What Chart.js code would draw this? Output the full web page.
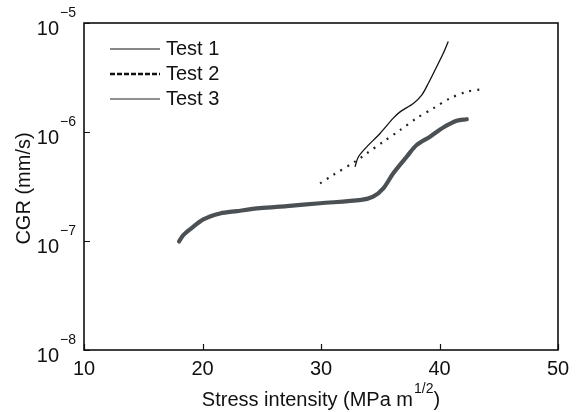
<!DOCTYPE html>
<html>
<head>
<meta charset="utf-8">
<script src="https://cdn.jsdelivr.net/npm/chart.js@4/dist/chart.umd.min.js"></script>
<style>
html,body{margin:0;padding:0;background:#fff;}
#wrap{width:579px;height:412px;position:relative;}
</style>
</head>
<body>
<div id="wrap"><canvas id="c"></canvas></div>
<script>
// ---- data ----
const seriesNames = ['Test 1', 'Test 2', 'Test 3'];
const test1X = [32.87, 33.15, 33.86, 34.98, 36.1, 36.67, 37.79, 38.5, 39.06, 39.76, 40.32, 40.74];
const test1Y = [4.8e-7, 5.9e-7, 7.3e-7, 9.7e-7, 1.34e-6, 1.53e-6, 1.83e-6, 2.18e-6, 2.8e-6, 3.97e-6, 5.27e-6, 6.75e-6];
const test2X = [29.92, 31.04, 32.87, 33.86, 35.26, 36.67, 38.07, 39.48, 40.89, 42.3, 43.56];
const test2Y = [3.38e-7, 4.04e-7, 5.35e-7, 6.37e-7, 8.15e-7, 1.04e-6, 1.34e-6, 1.65e-6, 2.04e-6, 2.34e-6, 2.47e-6];
const test3X = [18.02, 18.38, 18.95, 20.07, 21.48, 22.89, 24.85, 27.11, 29.92, 33.4, 34.4, 35.26, 36.1, 37.23, 38.07, 39.2, 40.32, 41.45, 42.3];
const test3Y = [9.9e-8, 1.13e-7, 1.28e-7, 1.58e-7, 1.79e-7, 1.88e-7, 2.0e-7, 2.09e-7, 2.22e-7, 2.38e-7, 2.55e-7, 3.04e-7, 4.18e-7, 5.93e-7, 7.6e-7, 9.06e-7, 1.1e-6, 1.27e-6, 1.31e-6];
const xTickValues = [10, 20, 30, 40, 50];
const yTickValues = [1e-8, 1e-7, 1e-6, 1e-5];
const yTickBase = ['10', '10', '10', '10'];
const yTickExp = ['\u22128', '\u22127', '\u22126', '\u22125'];
const xTitle = 'Stress intensity (MPa m';
const xTitleSup = '1/2';
const yTitle = 'CGR (mm/s)';

const FONT = '"Liberation Sans", Arial, sans-serif';
const pts = (xs, ys) => xs.map((x, i) => ({x: x, y: ys[i]}));

const legendStyles = [
  {color: '#111', width: 1.2, dash: []},
  {color: '#111', width: 2.6, dash: [5, 2]},
  {color: '#222', width: 1.0, dash: []}
];

const decor = {
  id: 'decor',
  afterDraw(chart) {
    const ctx = chart.ctx;
    const a = chart.chartArea;
    const xs = chart.scales.x, ys = chart.scales.y;
    ctx.save();
    // frame
    ctx.strokeStyle = '#111';
    ctx.lineWidth = 1.6;
    ctx.strokeRect(a.left, a.top, a.right - a.left, a.bottom - a.top);
    // inward ticks
    ctx.lineWidth = 1.2;
    ctx.beginPath();
    yTickValues.forEach(v => {
      const p = Math.round(ys.getPixelForValue(v)) + 0.5;
      ctx.moveTo(a.left, p); ctx.lineTo(a.left + 6, p);
    });
    xTickValues.forEach(v => {
      const p = Math.round(xs.getPixelForValue(v)) + 0.5;
      ctx.moveTo(p, a.bottom); ctx.lineTo(p, a.bottom - 6);
    });
    ctx.stroke();
    ctx.fillStyle = '#111';
    // x tick labels
    ctx.font = '20px ' + FONT;
    ctx.textAlign = 'center';
    ctx.textBaseline = 'middle';
    xTickValues.forEach(v => {
      ctx.fillText(String(v), xs.getPixelForValue(v), a.bottom + 19);
    });
    // y tick labels with superscript exponents
    yTickValues.forEach((v, i) => {
      const p = ys.getPixelForValue(v);
      ctx.font = '20px ' + FONT;
      ctx.textAlign = 'right';
      ctx.textBaseline = 'middle';
      ctx.fillText(yTickBase[i], a.left - 25, p + 6);
      ctx.font = '14px ' + FONT;
      ctx.textAlign = 'left';
      ctx.fillText(yTickExp[i], a.left - 24, p - 10);
    });
    // x title with superscript
    ctx.font = '20px ' + FONT;
    const w1 = ctx.measureText(xTitle).width;
    ctx.font = '14px ' + FONT;
    const w2 = ctx.measureText(xTitleSup).width;
    ctx.font = '20px ' + FONT;
    const w3 = ctx.measureText(')').width;
    const total = w1 + w2 + w3 + 1;
    let x0 = (a.left + a.right) / 2 - total / 2;
    const ty = a.bottom + 50;
    ctx.textAlign = 'left';
    ctx.textBaseline = 'middle';
    ctx.fillText(xTitle, x0, ty);
    ctx.font = '14px ' + FONT;
    ctx.fillText(xTitleSup, x0 + w1 + 1, ty - 11);
    ctx.font = '20px ' + FONT;
    ctx.fillText(')', x0 + w1 + w2 + 1, ty);
    // y title
    ctx.save();
    ctx.translate(24, (a.top + a.bottom) / 2 + 2);
    ctx.rotate(-Math.PI / 2);
    ctx.textAlign = 'center';
    ctx.textBaseline = 'middle';
    ctx.font = '20px ' + FONT;
    ctx.fillText(yTitle, 0, 0);
    ctx.restore();
    // legend
    const lx0 = 110, lx1 = 160, tx = 166;
    const rows = [49, 74, 99];
    seriesNames.forEach((name, i) => {
      const s = legendStyles[i];
      ctx.strokeStyle = s.color;
      ctx.lineWidth = s.width;
      ctx.setLineDash(s.dash);
      ctx.beginPath();
      ctx.moveTo(lx0, rows[i]); ctx.lineTo(lx1, rows[i]);
      ctx.stroke();
      ctx.setLineDash([]);
      ctx.font = '20px ' + FONT;
      ctx.textAlign = 'left';
      ctx.textBaseline = 'middle';
      ctx.fillStyle = '#111';
      ctx.fillText(name, tx, rows[i]);
    });
    ctx.restore();
  }
};

new Chart(document.getElementById('c'), {
  type: 'line',
  data: {
    datasets: [
      {label: seriesNames[0], data: pts(test1X, test1Y), borderColor: '#111', borderWidth: 1.3,
       pointRadius: 0, tension: 0.3, fill: false},
      {label: seriesNames[1], data: pts(test2X, test2Y), borderColor: '#222', borderWidth: 2.2,
       borderDash: [2, 6], pointRadius: 0, tension: 0.3, fill: false},
      {label: seriesNames[2], data: pts(test3X, test3Y), borderColor: '#4a5053', borderWidth: 4.2,
       borderCapStyle: 'round', pointRadius: 0, tension: 0.3, fill: false}
    ]
  },
  options: {
    responsive: true,
    maintainAspectRatio: false,
    animation: false,
    events: [],
    layout: {padding: {left: 84, right: 21, top: 23, bottom: 62}},
    plugins: {legend: {display: false}, tooltip: {enabled: false}},
    scales: {
      x: {type: 'linear', min: 10, max: 50, display: false},
      y: {type: 'logarithmic', min: 1e-8, max: 1e-5, display: false}
    }
  },
  plugins: [decor]
});
</script>
</body>
</html>
